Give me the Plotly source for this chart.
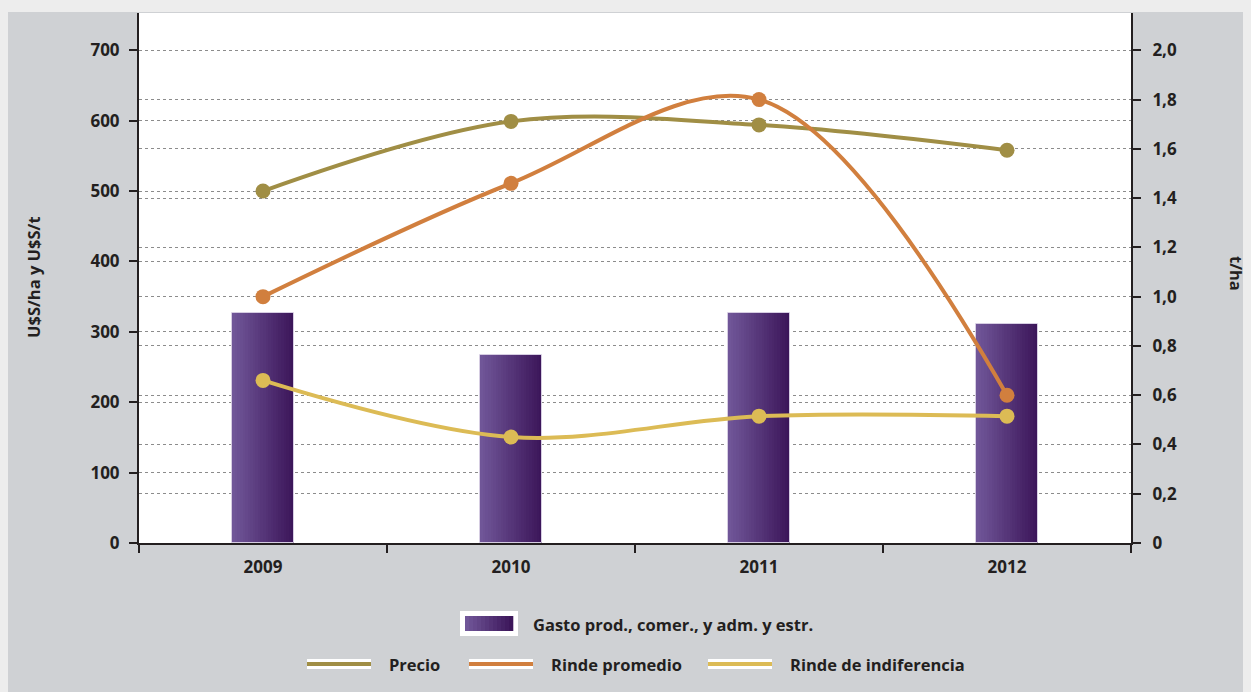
import plotly.graph_objects as go

# ---------------- data ----------------
years = ["2009", "2010", "2011", "2012"]
gasto = [327, 267, 327, 311]            # U$S/ha (left axis)
precio = [500, 599, 594, 558]           # U$S/t  (left axis)
rinde_promedio = [1.00, 1.46, 1.80, 0.60]      # t/ha (right axis)
rinde_indiferencia = [0.66, 0.43, 0.515, 0.515]  # t/ha (right axis)

left_ticks = [0, 100, 200, 300, 400, 500, 600, 700]
right_ticks = [0, 0.2, 0.4, 0.6, 0.8, 1.0, 1.2, 1.4, 1.6, 1.8, 2.0]
right_ticktext = ["0", "0,2", "0,4", "0,6", "0,8", "1,0", "1,2", "1,4", "1,6", "1,8", "2,0"]

# ---------------- style ----------------
OFF = 8  # page body margin
W, H = 1251, 692
ML, MT = 139 - OFF, 13 - OFF
MR = W - (1131 - OFF)
MB = H - (543 - OFF)
PW, PH = W - ML - MR, H - MT - MB
DARK = "#231f20"
C_PRECIO = "#a08e45"
C_RINDE = "#d17f3e"
C_INDIF = "#dcbb55"
BAR_L = (112, 86, 152)
BAR_R = (60, 22, 90)
FONT = "Open Sans"
PANEL = "#cfd1d4"
OUTER = "#ededed"


def px(x):  # screen x -> paper
    return (x - OFF - ML) / PW


def py(y):  # screen y -> paper
    return (H - MB - (y - OFF)) / PH


def mix(t):
    return "rgb(%d,%d,%d)" % tuple(round(a + (b - a) * t) for a, b in zip(BAR_L, BAR_R))


fig = go.Figure()

# gradient bars: slices of the same bar values
N = 24
BW = 0.248
for i in range(N):
    fig.add_trace(go.Bar(
        x=years, y=gasto, width=BW / N, offset=-BW / 2 + i * BW / N,
        marker=dict(color=mix(i / (N - 1)), line=dict(width=0)),
        showlegend=False, hoverinfo="skip"))
fig.add_trace(go.Bar(
    x=years, y=gasto, width=BW, offset=-BW / 2, name="Gasto prod., comer., y adm. y estr.",
    marker=dict(color="rgba(0,0,0,0)", line=dict(width=1, color="#d6cde2")),
    showlegend=False))

fig.add_trace(go.Scatter(
    x=years, y=precio, name="Precio", mode="lines+markers",
    line=dict(color=C_PRECIO, width=4, shape="spline", smoothing=1),
    marker=dict(size=15, color=C_PRECIO), showlegend=False))
fig.add_trace(go.Scatter(
    x=years, y=rinde_promedio, name="Rinde promedio", mode="lines+markers", yaxis="y2",
    line=dict(color=C_RINDE, width=4, shape="spline", smoothing=1),
    marker=dict(size=15, color=C_RINDE), showlegend=False))
fig.add_trace(go.Scatter(
    x=years, y=rinde_indiferencia, name="Rinde de indiferencia", mode="lines+markers", yaxis="y2",
    line=dict(color=C_INDIF, width=4, shape="spline", smoothing=1),
    marker=dict(size=15, color=C_INDIF), showlegend=False))

YMAX = 753
shapes = [
    # light strip at the top
    dict(type="rect", xref="paper", yref="paper", x0=px(0), x1=px(W + 20), y0=py(12), y1=py(-5),
         fillcolor=OUTER, line=dict(width=0), layer="below"),
    # plot area
    dict(type="rect", xref="paper", yref="paper", x0=0, x1=1, y0=0, y1=1,
         fillcolor="white", line=dict(width=0), layer="below"),
]

annotations = []
tickfont = dict(family=FONT, size=17, color=DARK, weight="bold")
legfont = dict(family=FONT, size=16.5, color=DARK, weight="bold")

# legend row 1 (bar)
shapes.append(dict(type="rect", xref="paper", yref="paper", x0=px(460), x1=px(518), y0=py(636), y1=py(611),
                   fillcolor="white", line=dict(width=0)))
NS = 12
for i in range(NS):
    x0 = 465 + i * 48 / NS
    shapes.append(dict(type="rect", xref="paper", yref="paper", x0=px(x0), x1=px(x0 + 48 / NS + 0.3),
                       y0=py(631), y1=py(616), fillcolor=mix(i / (NS - 1)), line=dict(width=0)))
annotations.append(dict(x=px(531), y=py(624), xref="paper", yref="paper", xanchor="left", yanchor="middle",
                        text="Gasto prod., comer., y adm. y estr.", showarrow=False, font=legfont))

# legend row 2 (lines)
for x0, col, label in [(307, C_PRECIO, "Precio"), (469, C_RINDE, "Rinde promedio"),
                       (708, C_INDIF, "Rinde de indiferencia")]:
    shapes.append(dict(type="rect", xref="paper", yref="paper", x0=px(x0), x1=px(x0 + 64), y0=py(669), y1=py(659),
                       fillcolor="white", line=dict(width=0)))
    shapes.append(dict(type="rect", xref="paper", yref="paper", x0=px(x0), x1=px(x0 + 64), y0=py(666), y1=py(662),
                       fillcolor=col, line=dict(width=0)))
    annotations.append(dict(x=px(x0 + 80), y=py(664), xref="paper", yref="paper", xanchor="left",
                            yanchor="middle", text=label, showarrow=False, font=legfont))

# axis titles
titlefont = dict(family=FONT, size=16.5, color=DARK, weight="bold")
annotations.append(dict(x=px(33), y=py(277), xref="paper", yref="paper", text="U$S/ha y U$S/t",
                        xanchor="center", yanchor="middle",
                        textangle=-90, showarrow=False, font=titlefont))
annotations.append(dict(x=px(1237), y=py(273), xref="paper", yref="paper", text="t/ha",
                        xanchor="center", yanchor="middle",
                        textangle=90, showarrow=False, font=titlefont))

fig.update_layout(
    width=W, height=H,
    margin=dict(l=ML, r=MR, t=MT, b=MB, autoexpand=False),
    paper_bgcolor=PANEL, plot_bgcolor="rgba(0,0,0,0)",
    barmode="overlay", bargap=0,
    showlegend=False,
    shapes=shapes, annotations=annotations,
    xaxis=dict(type="category", categoryorder="array", categoryarray=years,
               tickson="boundaries", ticks="outside", ticklen=8, tickwidth=2, tickcolor=DARK,
               showline=True, linecolor=DARK, linewidth=2, showgrid=False,
               tickfont=tickfont, range=[-0.5, 3.5], ticklabelstandoff=8),
    yaxis=dict(range=[0, YMAX], tickvals=left_ticks, ticks="outside", ticklen=8, tickwidth=2,
               tickcolor=DARK, showline=True, linecolor=DARK, linewidth=2,
               showgrid=True, gridcolor="#8c8c8c", griddash="dot", gridwidth=1, zeroline=False,
               tickfont=tickfont, ticklabelstandoff=6),
    yaxis2=dict(range=[0, YMAX / 350], overlaying="y", side="right", tickvals=right_ticks,
                ticktext=right_ticktext, ticks="outside", ticklen=8, tickwidth=2, tickcolor=DARK,
                showline=True, linecolor=DARK, linewidth=2,
                showgrid=True, gridcolor="#8c8c8c", griddash="dot", gridwidth=1, zeroline=False,
                tickfont=tickfont, ticklabelstandoff=8),
)

fig.write_html("out.html", post_script="document.body.style.background='%s';" % OUTER)
